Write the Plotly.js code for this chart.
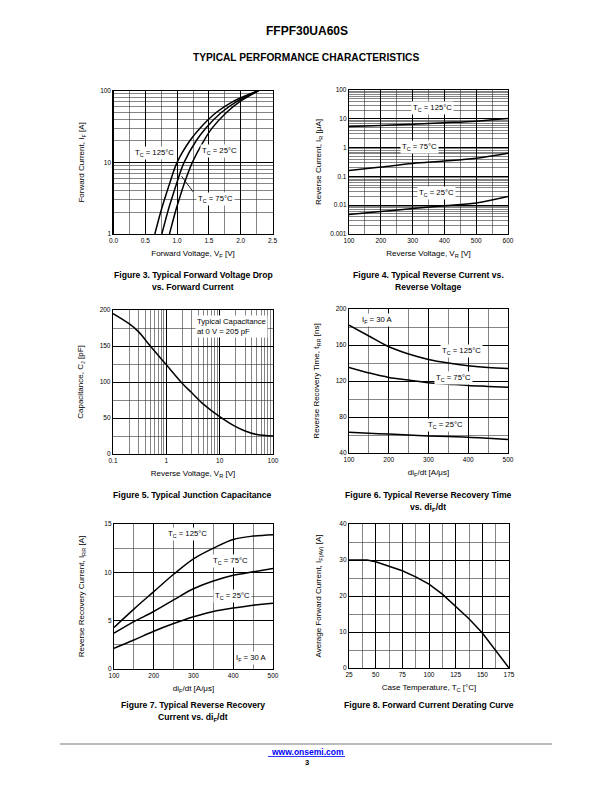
<!DOCTYPE html>
<html><head><meta charset="utf-8">
<script src="https://cdn.plot.ly/plotly-3.0.1.min.js"></script>
<style>html,body{margin:0;padding:0;background:#fff}#chart{width:612px;height:792px}</style>
</head><body><div id="chart"></div><script>
// ---- Figure 3: forward voltage vs forward current ----
const fig3_IF = [1, 2, 3, 5, 10, 20, 30, 50, 70, 100];
const fig3_VF_125 = [0.65, 0.74, 0.80, 0.88, 1.00, 1.20, 1.36, 1.62, 1.87, 2.28];
const fig3_VF_75  = [0.76, 0.85, 0.91, 0.99, 1.11, 1.30, 1.45, 1.70, 1.93, 2.28];
const fig3_VF_25  = [0.88, 0.97, 1.03, 1.11, 1.24, 1.42, 1.55, 1.78, 1.98, 2.28];
// ---- Figure 4: reverse current vs reverse voltage ----
const fig4_VR = [100, 200, 300, 400, 500, 600];
const fig4_IR_125 = [5.4, 5.9, 6.5, 7.3, 8.3, 10.2];
const fig4_IR_75  = [0.16, 0.21, 0.28, 0.34, 0.43, 0.64];
const fig4_IR_25  = [0.0048, 0.006, 0.0077, 0.0095, 0.012, 0.02];
// ---- Figure 5: junction capacitance ----
const fig5_VR = [0.1, 0.2, 0.3, 0.5, 1, 2, 3, 5, 10, 20, 30, 50, 100];
const fig5_CJ = [195, 181, 170, 150, 124, 98, 85, 69, 52, 38, 32, 27, 25];
// ---- Figure 6: reverse recovery time vs diF/dt ----
const fig6_di = [100, 150, 200, 250, 300, 350, 400, 450, 500];
const fig6_trr_125 = [182, 170, 158, 150, 144, 140, 137, 135, 134];
const fig6_trr_75  = [135, 129, 124, 121, 118, 116.5, 115, 114, 113];
const fig6_trr_25  = [63, 62, 61, 60, 59, 58.2, 57.5, 56.3, 55];
// ---- Figure 7: reverse recovery current vs diF/dt ----
const fig7_di = [100, 150, 200, 250, 300, 350, 400, 450, 500];
const fig7_Irr_125 = [4.3, 6.2, 8.0, 9.8, 11.4, 12.5, 13.4, 13.75, 13.9];
const fig7_Irr_75  = [3.7, 4.9, 5.95, 7.15, 8.3, 9.1, 9.7, 10.05, 10.4];
const fig7_Irr_25  = [2.15, 3.0, 3.9, 4.7, 5.4, 5.95, 6.3, 6.6, 6.8];
// ---- Figure 8: derating ----
const fig8_TC = [25, 42, 50, 62.5, 75, 87.5, 100, 112.5, 125, 137.5, 150, 162.5, 175];
const fig8_IF = [30, 30, 29.5, 28.3, 27, 25.3, 23.3, 20.5, 17.2, 13.7, 9.7, 5, 0];
// tick labels
const fig3_yticks = [1, 10, 100];
const fig3_yticktext = ['1', '10', '100'];
const fig4_yticks = [0.001, 0.01, 0.1, 1, 10, 100];
const fig4_yticktext = ['0.001', '0.01', '0.1', '1', '10', '100'];
const fig5_xticks = [0.1, 1, 10, 100];
const fig5_xticktext = ['0.1', '1', '10', '100'];

const FONT = 'Liberation Sans, Arial, Helvetica, sans-serif';
const line = {color: '#000', width: 1.5, shape: 'spline'};
function tr(x, y, xa, ya) { return {x: x, y: y, xaxis: xa, yaxis: ya, type: 'scatter', mode: 'lines', line: line, hoverinfo: 'skip', showlegend: false}; }

const data = [
  tr(fig3_VF_125, fig3_IF, 'x', 'y'), tr(fig3_VF_75, fig3_IF, 'x', 'y'), tr(fig3_VF_25, fig3_IF, 'x', 'y'),
  tr(fig4_VR, fig4_IR_125, 'x2', 'y2'), tr(fig4_VR, fig4_IR_75, 'x2', 'y2'), tr(fig4_VR, fig4_IR_25, 'x2', 'y2'),
  tr(fig5_VR, fig5_CJ, 'x3', 'y3'),
  tr(fig6_di, fig6_trr_125, 'x4', 'y4'), tr(fig6_di, fig6_trr_75, 'x4', 'y4'), tr(fig6_di, fig6_trr_25, 'x4', 'y4'),
  tr(fig7_di, fig7_Irr_125, 'x5', 'y5'), tr(fig7_di, fig7_Irr_75, 'x5', 'y5'), tr(fig7_di, fig7_Irr_25, 'x5', 'y5'),
  Object.assign(tr(fig8_TC, fig8_IF, 'x6', 'y6'), {line: {color: '#000', width: 1.5, shape: 'linear'}})
];

function ax(o) {
  const base = {
    showline: true, mirror: true, linecolor: '#000', linewidth: 1.2,
    showgrid: true, gridcolor: '#000', gridwidth: 1, zeroline: false,
    ticks: '', ticklen: 0, tickfont: {family: FONT, size: 6.5, color: '#000'},
    fixedrange: true
  };
  const r = Object.assign(base, o);
  if (r.minor) r.minor = Object.assign({showgrid: true, gridcolor: '#333', gridwidth: 0.6, ticks: ''}, r.minor);
  if (r.title) r.title = {text: r.title, font: {family: FONT, size: 8, color: '#000'}, standoff: r.standoff || 7};
  delete r.standoff;
  return r;
}
const P = y => 1 - y / 792;

const layout = {
  width: 612, height: 792, margin: {l: 0, r: 0, t: 0, b: 0},
  paper_bgcolor: '#fff', plot_bgcolor: '#fff', showlegend: false,
  font: {family: FONT, color: '#000'},
  xaxis: ax({domain: [113.5/612, 272.5/612], anchor: 'y', range: [0, 2.5], dtick: 0.5, tickformat: '.1f', minor: {dtick: 0.25}, title: 'Forward Voltage, V<sub>F</sub> [V]'}),
  yaxis: ax({domain: [P(234), P(90.7)], anchor: 'x', type: 'log', range: [0, 2], tickvals: fig3_yticks, ticktext: fig3_yticktext, minor: {dtick: 'D1'}, title: 'Forward Current, I<sub>F</sub> [A]', standoff: 14}),
  xaxis2: ax({domain: [349/612, 508/612], anchor: 'y2', range: [100, 600], dtick: 100, minor: {dtick: 50}, title: 'Reverse Voltage, V<sub>R</sub> [V]'}),
  yaxis2: ax({domain: [P(234), P(90)], anchor: 'x2', type: 'log', range: [-3, 2], tickvals: fig4_yticks, ticktext: fig4_yticktext, minor: {dtick: 'D1'}, title: 'Reverse Current, I<sub>R</sub> [μA]', standoff: 7}),
  xaxis3: ax({domain: [113/612, 273/612], anchor: 'y3', type: 'log', range: [-1, 2], tickvals: fig5_xticks, ticktext: fig5_xticktext, minor: {dtick: 'D1'}, title: 'Reverse Voltage, V<sub>R</sub> [V]'}),
  yaxis3: ax({domain: [P(454), P(310)], anchor: 'x3', range: [0, 200], dtick: 50, minor: {dtick: 25}, title: 'Capacitance, C<sub>J</sub> [pF]', standoff: 14}),
  xaxis4: ax({domain: [349/612, 508/612], anchor: 'y4', range: [100, 500], dtick: 100, minor: {dtick: 50}, title: 'di<sub>F</sub>/dt [A/μs]'}),
  yaxis4: ax({domain: [P(453), P(309)], anchor: 'x4', range: [40, 200], dtick: 40, minor: {dtick: 20}, title: 'Reverse Recovery Time, t<sub>RR</sub> [ns]', standoff: 14}),
  xaxis5: ax({domain: [114/612, 273/612], anchor: 'y5', range: [100, 500], dtick: 100, minor: {dtick: 50}, title: 'di<sub>F</sub>/dt [A/μs]'}),
  yaxis5: ax({domain: [P(669), P(524)], anchor: 'x5', range: [0, 15], dtick: 5, minor: {dtick: 2.5}, title: 'Reverse Recovery Current, I<sub>RR</sub> [A]', standoff: 18}),
  xaxis6: ax({domain: [349/612, 509/612], anchor: 'y6', range: [25, 175], dtick: 25, minor: {dtick: 12.5}, title: 'Case Temperature, T<sub>C</sub> [°C]'}),
  yaxis6: ax({domain: [P(668), P(524)], anchor: 'x6', range: [0, 40], dtick: 10, minor: {dtick: 5}, title: 'Average Forward Current, I<sub>F(AV)</sub> [A]', standoff: 16}),
  shapes: [
    {type: 'line', xref: 'paper', yref: 'paper', x0: 60/612, x1: 552/612, y0: P(744), y1: P(744), line: {color: '#bbb', width: 2}},
    {type: 'line', xref: 'paper', yref: 'paper', x0: 268/612, x1: 345/612, y0: P(756.5), y1: P(756.5), line: {color: '#00f', width: 0.8}}
  ],
  annotations: []
};

function lab(text, x, y, xr, yr, extra) {
  return Object.assign({text: text, x: x, y: y, xref: xr, yref: yr, showarrow: false, bgcolor: '#fff', borderpad: 1,
    xanchor: 'center', yanchor: 'middle',
    font: {family: FONT, size: 7.7, color: '#000'}}, extra || {});
}
function pt(text, x, y, size, extra) {
  return Object.assign({text: text, x: x / 612, y: P(y), xref: 'paper', yref: 'paper', showarrow: false,
    xanchor: 'center', yanchor: 'middle',
    font: {family: FONT, size: size, color: '#000'}}, extra || {});
}
const A = layout.annotations;
// figure 3 labels
A.push({text: '', x: 1.07, y: Math.log10(6.4), xref: 'x', yref: 'y', ax: 1.27, ay: Math.log10(3.7), axref: 'x', ayref: 'y', showarrow: true, arrowhead: 0, arrowwidth: 0.9, arrowcolor: '#000'});
A.push(lab('T<sub>C</sub> = 125°C', 0.65, 1.13, 'x', 'y'));
A.push(lab('T<sub>C</sub> = 25°C', 1.67, 1.158, 'x', 'y'));
A.push(lab('T<sub>C</sub> = 75°C', 1.61, 0.49, 'x', 'y'));
// figure 4 labels
A.push(lab('T<sub>C</sub> = 125°C', 361, 1.375, 'x2', 'y2'));
A.push(lab('T<sub>C</sub> = 75°C', 323, 0.02, 'x2', 'y2'));
A.push(lab('T<sub>C</sub> = 25°C', 374, -1.58, 'x2', 'y2'));
// figure 5 box
A.push(lab('Typical Capacitance<br>at 0 V = 205 pF', 0.51, 0.965, 'x3 domain', 'y3 domain', {xanchor: 'left', yanchor: 'top', align: 'left'}));
// figure 6 labels
A.push(lab('I<sub>F</sub> = 30 A', 170, 187.8, 'x4', 'y4'));
A.push(lab('T<sub>C</sub> = 125°C', 382, 153, 'x4', 'y4'));
A.push(lab('T<sub>C</sub> = 75°C', 362, 123, 'x4', 'y4'));
A.push(lab('T<sub>C</sub> = 25°C', 344, 71, 'x4', 'y4'));
// figure 7 labels
A.push(lab('T<sub>C</sub> = 125°C', 286, 13.97, 'x5', 'y5'));
A.push(lab('T<sub>C</sub> = 75°C', 392, 11.2, 'x5', 'y5'));
A.push(lab('T<sub>C</sub> = 25°C', 397, 7.55, 'x5', 'y5'));
A.push(lab('I<sub>F</sub> = 30 A', 445, 1.14, 'x5', 'y5'));
// page text
A.push(pt('<b>FFPF30UA60S</b>', 307, 31, 12));
A.push(pt('<b>TYPICAL PERFORMANCE CHARACTERISTICS</b>', 306, 57, 10.2));
A.push(pt('<b>Figure 3. Typical Forward Voltage Drop</b>', 193, 275, 8.6));
A.push(pt('<b>vs. Forward Current</b>', 193, 287, 8.6));
A.push(pt('<b>Figure 4. Typical Reverse Current vs.</b>', 428, 275, 8.6));
A.push(pt('<b>Reverse Voltage</b>', 428, 287, 8.6));
A.push(pt('<b>Figure 5. Typical Junction Capacitance</b>', 192, 495, 8.6));
A.push(pt('<b>Figure 6. Typical Reverse Recovery Time</b>', 428, 495, 8.6));
A.push(pt('<b>vs. di<sub>F</sub>/dt</b>', 428, 507, 8.6));
A.push(pt('<b>Figure 7. Typical Reverse Recovery</b>', 193, 705, 8.6));
A.push(pt('<b>Current vs. di<sub>F</sub>/dt</b>', 193, 717, 8.6));
A.push(pt('<b>Figure 8. Forward Current Derating Curve</b>', 429, 705, 8.6));
A.push(pt('<b>www.onsemi.com</b>', 307, 751.5, 8.5, {font: {family: FONT, size: 8.5, color: '#00f'}}));
A.push(pt('<b>3</b>', 307, 762, 7.5));

Plotly.newPlot('chart', data, layout, {staticPlot: true});
</script></body></html>
